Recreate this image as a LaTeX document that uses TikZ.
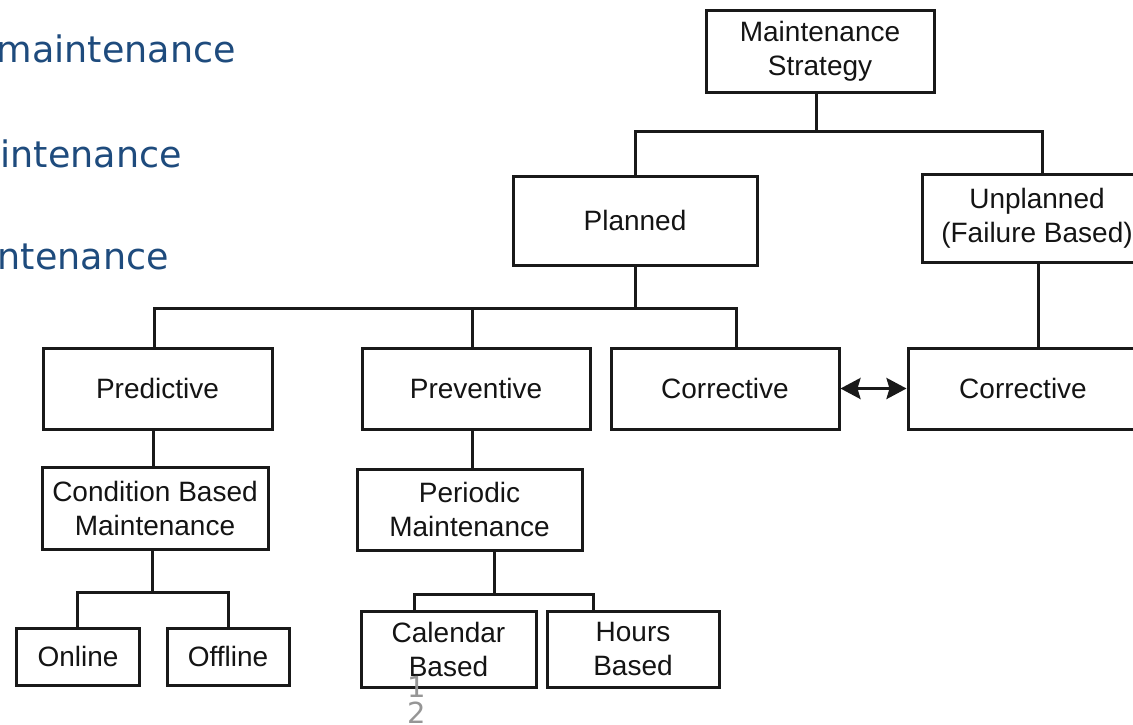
\documentclass[tikz,border=0pt]{standalone}
\usepackage{fontspec}
\setmainfont{Liberation Sans}
\newfontfamily\bluefont{DejaVu Sans}
\usetikzlibrary{arrows.meta}
\definecolor{slideblue}{RGB}{30,75,125}
\definecolor{pagegray}{RGB}{150,150,150}
\tikzset{
  box/.style={draw=black!90, line width=3pt, rectangle, inner sep=0pt, align=center,
    font=\fontsize{28}{34}\selectfont, text=black!92},
  conn/.style={draw=black!90, line width=3pt},
  dblarrow/.style={draw=black!90, line width=3pt, {Stealth[length=20pt,width=21pt,inset=3pt]}-{Stealth[length=20pt,width=21pt,inset=3pt]}},
  slidetext/.style={anchor=base east, inner sep=0pt, text=slideblue, font=\bluefont\fontsize{36.5}{40}\selectfont},
  pagenum/.style={anchor=base, inner sep=0pt, text=pagegray, font=\bluefont\fontsize{29}{30}\selectfont}
}
\begin{document}
\begin{tikzpicture}[x=1pt,y=-1pt]
\useasboundingbox (0,0) rectangle (1133,724);
\fill[white] (0,0) rectangle (1133,724);
\clip (0,0) rectangle (1133,724);

% slide text fragments
\node[slidetext] (t1) at (236,62) {maintenance};
\node[slidetext] (t2) at (182,167) {intenance};
\node[slidetext] (t3) at (169,269) {ntenance};

% boxes
\node[box, minimum width=228pt, minimum height=82pt] (ms) at (820,51) {Maintenance\\Strategy};
\node[box, minimum width=244pt, minimum height=89pt] (planned) at (635,220.5) {Planned};
\node[box, minimum width=230pt, minimum height=88pt] (unpl) at (1037,218) {Unplanned\\(Failure Based)};
\node[box, minimum width=229pt, minimum height=81pt] (pred) at (157.5,388.5) {Predictive};
\node[box, minimum width=228pt, minimum height=81pt] (prev) at (476,388.5) {Preventive};
\node[box, minimum width=228pt, minimum height=81pt] (corrL) at (725,388.5) {Corrective};
\node[box, minimum width=230pt, minimum height=81pt] (corrR) at (1023,388.5) {Corrective};
\node[box, minimum width=226pt, minimum height=82pt] (cbm) at (155,508) {Condition Based\\Maintenance};
\node[box, minimum width=225pt, minimum height=81pt] (per) at (469.5,509.5) {Periodic\\Maintenance};
\node[box, minimum width=123pt, minimum height=57pt] (online) at (78,656.5) {Online};
\node[box, minimum width=122pt, minimum height=57pt] (offline) at (228,656.5) {Offline};
\node[box, minimum width=175pt, minimum height=76pt] (cal) at (448.5,649) {Calendar\\Based};
\node[box, minimum width=172pt, minimum height=76pt] (hours) at (633,649) {Hours\\Based};

% connectors
\draw[conn] ([xshift=-4pt]ms.south) -- ++(0,38) coordinate (b1);
\draw[conn] (planned.north) |- (b1) -| ([xshift=5pt]unpl.north);
\draw[conn] (planned.south) -- ++(0,42) coordinate (b2);
\draw[conn] ([xshift=-3.5pt]pred.north) |- (b2) -| ([xshift=11pt]corrL.north);
\draw[conn] ([xshift=-4pt]prev.north) -- ([xshift=-4pt]prev.north |- b2);
\draw[conn] ([xshift=1pt]unpl.south) -- ([xshift=1pt]unpl.south |- corrR.north);
\draw[dblarrow] (corrL.east) -- (corrR.west);
\draw[conn] ([xshift=-4.5pt]pred.south) -- ([xshift=-4.5pt]pred.south |- cbm.north);
\draw[conn] ([xshift=-4pt]prev.south) -- ([xshift=-4pt]prev.south |- per.north);
\draw[conn] ([xshift=-3pt]cbm.south) -- ++(0,42) coordinate (b3);
\draw[conn] ([xshift=-1pt]online.north) |- (b3) -| (offline.north);
\draw[conn] ([xshift=24.5pt]per.south) -- ++(0,42.5) coordinate (b4);
\draw[conn] ([xshift=-34.5pt]cal.north) |- (b4) -| ([xshift=-40pt]hours.north);

% page number fragment
\node[pagenum] (p1) at (417,697) {1};
\node[pagenum] (p2) at (417,723) {2};
\end{tikzpicture}
\end{document}
